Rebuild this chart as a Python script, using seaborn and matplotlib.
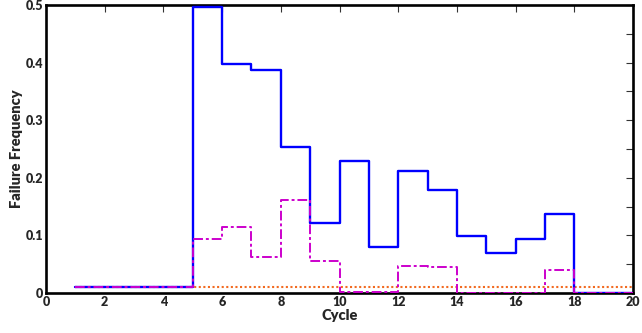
import matplotlib
matplotlib.use("Agg")
import matplotlib.pyplot as plt
from matplotlib.ticker import MultipleLocator
import pandas as pd
import seaborn as sns

cycles = list(range(1, 21))
freq_solid = [0.01, 0.01, 0.01, 0.01, 0.496, 0.398, 0.387, 0.254, 0.122, 0.230,
              0.079, 0.211, 0.179, 0.099, 0.069, 0.094, 0.137, 0.0, 0.0, 0.0]
freq_dashdot = [0.01, 0.01, 0.01, 0.01, 0.094, 0.114, 0.063, 0.161, 0.055, 0.002,
                0.002, 0.047, 0.045, 0.0, 0.0, 0.0, 0.04, 0.0, 0.0, 0.0]
freq_dotted = [0.01] * 20
x_ticks = [0, 2, 4, 6, 8, 10, 12, 14, 16, 18, 20]
y_ticks = [0, 0.1, 0.2, 0.3, 0.4, 0.5]
y_tick_labels = ["0", "0.1", "0.2", "0.3", "0.4", "0.5"]

sns.set_theme(style="white")
plt.rcParams["font.family"] = ["Lato", "DejaVu Sans"]

frame = pd.DataFrame({
    "cycle": cycles,
    "solid": freq_solid,
    "dashdot": freq_dashdot,
    "dotted": freq_dotted,
})

fig, ax = plt.subplots(figsize=(6.42, 3.33), dpi=100)
fig.subplots_adjust(left=46 / 642, right=633 / 642, top=1 - 5 / 333, bottom=1 - 293 / 333)

sns.lineplot(data=frame, x="cycle", y="dotted", ax=ax, color="#f26b21",
             linestyle=(0, (1, 1.2)), linewidth=1.5, drawstyle="steps-post", zorder=2)
sns.lineplot(data=frame, x="cycle", y="solid", ax=ax, color="#0000ff",
             linewidth=1.7, drawstyle="steps-post", zorder=3)
sns.lineplot(data=frame, x="cycle", y="dashdot", ax=ax, color="#cc00cc",
             linestyle=(0, (5, 1.5, 1.5, 1.5)), linewidth=1.4, drawstyle="steps-post", zorder=4)

ax.set_xlim(0, 20)
ax.set_ylim(0, 0.5)
ax.set_xticks(x_ticks)
ax.set_xticklabels([str(t) for t in x_ticks])
ax.set_yticks(y_ticks)
ax.set_yticklabels(y_tick_labels)
ax.yaxis.set_minor_locator(MultipleLocator(0.05))

for spine in ax.spines.values():
    spine.set_color("black")
    spine.set_linewidth(1.9)

ax.tick_params(axis="both", which="both", direction="in", top=True, right=True,
               color="#333333", width=0.8, labelsize=9)
ax.tick_params(axis="both", which="major", length=5)
ax.tick_params(axis="y", which="minor", length=5)
ax.tick_params(axis="x", pad=2)
ax.tick_params(axis="y", pad=2)
for lab in ax.get_xticklabels() + ax.get_yticklabels():
    lab.set_fontweight("heavy")

ax.set_xlabel("Cycle", fontsize=10.5, fontweight="heavy", labelpad=1)
ax.set_ylabel("Failure Frequency", fontsize=10.5, fontweight="heavy", labelpad=2)
ax.grid(False)

fig.savefig("out.png", dpi=100)
